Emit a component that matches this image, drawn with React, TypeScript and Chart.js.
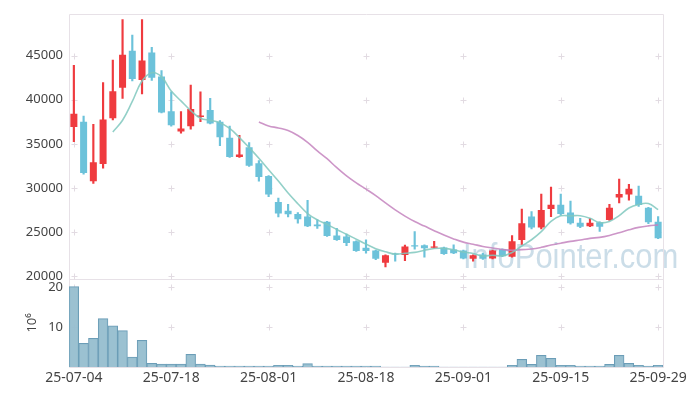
import { useEffect, useRef } from "react";
import { Chart, registerables } from "chart.js";

Chart.register(...registerables);

const dates = [
  "25-07-04", "25-07-07", "25-07-08", "25-07-09", "25-07-10", "25-07-11",
  "25-07-14", "25-07-15", "25-07-16", "25-07-17", "25-07-18",
  "25-07-21", "25-07-22", "25-07-23", "25-07-24", "25-07-25",
  "25-07-28", "25-07-29", "25-07-30", "25-07-31", "25-08-01",
  "25-08-04", "25-08-05", "25-08-06", "25-08-07", "25-08-08",
  "25-08-11", "25-08-12", "25-08-13", "25-08-14", "25-08-18",
  "25-08-19", "25-08-20", "25-08-21", "25-08-22",
  "25-08-25", "25-08-26", "25-08-27", "25-08-28", "25-08-29", "25-09-01",
  "25-09-02", "25-09-03", "25-09-04", "25-09-05",
  "25-09-08", "25-09-09", "25-09-10", "25-09-11", "25-09-12", "25-09-15",
  "25-09-16", "25-09-17", "25-09-18", "25-09-19",
  "25-09-22", "25-09-23", "25-09-24", "25-09-25", "25-09-26", "25-09-29",
];

const opens = [
  36900, 37500, 30750, 32700, 37900, 41350, 45550, 42250, 45350, 42650,
  38700, 36400, 37000, 38050, 38850, 37500, 35700, 33500, 34600, 32800,
  31350, 28400, 27400, 27050, 26750, 25850, 26150, 24600, 24500, 23950,
  23200, 22900, 21500, 22550, 22400, 23500, 23500, 23200, 23250, 23000,
  22900, 21950, 22450, 22000, 23050, 22200, 24100, 26750, 25500, 27600,
  28100, 27200, 26050, 25650, 26100, 26350, 28900, 29250, 29100, 27750,
  26150,
];
const highs = [
  43900, 38150, 37200, 41950, 44500, 49100, 47350, 49100, 45950, 43300,
  40900, 38650, 41650, 40900, 40150, 37650, 37000, 35950, 35150, 33100,
  31400, 28850, 28150, 27200, 28600, 26400, 26200, 25400, 24750, 24000,
  24100, 22950, 22400, 22600, 23500, 25050, 23550, 23950, 23300, 23550,
  22950, 22400, 22600, 22950, 23100, 24600, 27600, 27300, 29300, 30100,
  29300, 28500, 26550, 26550, 26150, 28150, 31000, 30400, 30200, 27800,
  26750,
];
const lows = [
  35250, 31550, 30500, 32250, 37700, 40150, 42150, 40650, 42200, 38500,
  37000, 36200, 36650, 37500, 37250, 34800, 33450, 33450, 32450, 30750,
  29000, 26700, 26700, 26000, 25600, 25400, 24500, 24050, 23450, 22800,
  22600, 21850, 21050, 21700, 21750, 23050, 22150, 23150, 22450, 22550,
  21950, 21700, 21900, 21950, 22200, 22150, 23600, 25350, 25350, 26750,
  26900, 25900, 25500, 25600, 25050, 26300, 28300, 28600, 27900, 25950,
  24250,
];
const closes = [
  38400, 31700, 32900, 37750, 40950, 45100, 42350, 44450, 42500, 38550,
  37100, 36750, 38950, 38200, 37300, 35750, 33500, 33800, 32500, 31250,
  29250, 27100, 27000, 26450, 25650, 25650, 24550, 24100, 23750, 22850,
  22850, 21950, 22350, 22450, 23350, 23350, 23150, 23350, 22500, 22600,
  22000, 22350, 21950, 22900, 22250, 23950, 26000, 25500, 27500, 28100,
  27050, 26000, 25600, 26050, 25600, 27750, 29300, 29900, 28050, 26100,
  24300,
];
// volume in millions of shares
const volumes = [
  20.1, 5.9, 7.2, 12.1, 10.3, 9.1, 2.5, 6.7, 0.9, 0.7,
  0.7, 0.7, 3.15, 0.7, 0.45, 0.25, 0.25, 0.25, 0.25, 0.25,
  0.25, 0.4, 0.4, 0.25, 0.85, 0.25, 0.25, 0.25, 0.25, 0.25,
  0.25, 0.25, 0.01, 0.01, 0.01, 0.4, 0.2, 0.2, 0.01, 0.01,
  0.01, 0.01, 0.01, 0.01, 0.01, 0.4, 1.9, 0.65, 2.9, 2.2,
  0.4, 0.4, 0.25, 0.25, 0.25, 0.65, 2.9, 0.9, 0.4, 0.2,
  0.4,
];

const priceTicks = [20000, 25000, 30000, 35000, 40000, 45000];
const volumeTicks = [10, 20];
const volumeTitle = "10⁶";
const watermark = "InfoPointer.com";

const UP = "#ef3b3f";
const DOWN = "#6cc2da";
const FONT = "'Noto Sans', sans-serif";
const TEXT = "#444444";

function movingAverage(values: number[], n: number): (number | null)[] {
  return values.map((_, i) => {
    if (i < n - 1) return null;
    let s = 0;
    for (let k = i - n + 1; k <= i; k++) s += values[k];
    return s / n;
  });
}

const framePlugin = {
  id: "frame",
  beforeDatasetsDraw(chart: any) {
    const { ctx, chartArea, scales } = chart;
    const x = scales.x;
    const y = scales.y;
    const yv = scales.yv;
    ctx.save();
    // watermark
    ctx.save();
    ctx.font = "31px 'Liberation Sans', sans-serif";
    ctx.fillStyle = "rgba(168,198,216,0.6)";
    ctx.textBaseline = "alphabetic";
    ctx.textAlign = "left";
    ctx.translate(463, 267.5);
    ctx.scale(1, 1.12);
    ctx.fillText(watermark, 0, 0);
    ctx.restore();
    // frame
    ctx.strokeStyle = "#e7e1e7";
    ctx.lineWidth = 1;
    ctx.beginPath();
    const l = Math.round(chartArea.left) + 0.5;
    const r = Math.round(chartArea.right) + 0.5;
    const t = Math.round(chartArea.top) + 0.5;
    const b = Math.round(chartArea.bottom) + 0.5;
    const m = Math.round(y.bottom) + 0.5;
    ctx.moveTo(l, t); ctx.lineTo(l, b);
    ctx.moveTo(r, t); ctx.lineTo(r, b);
    ctx.moveTo(l, t); ctx.lineTo(r, t);
    ctx.moveTo(l, m); ctx.lineTo(r, m);
    ctx.moveTo(l, b); ctx.lineTo(r, b);
    ctx.stroke();
    // crosses at tick intersections
    ctx.strokeStyle = "#e2dbe2";
    ctx.beginPath();
    for (let i = 0; i < dates.length; i += 10) {
      const px = Math.round(x.getPixelForValue(i)) + 0.5;
      const ys = [
        ...priceTicks.map((v) => y.getPixelForValue(v)),
        ...volumeTicks.map((v) => yv.getPixelForValue(v)),
      ];
      for (const py0 of ys) {
        const py = Math.round(py0) + 0.5;
        ctx.moveTo(px - 3, py); ctx.lineTo(px + 3, py);
        ctx.moveTo(px, py - 3); ctx.lineTo(px, py + 3);
      }
    }
    ctx.stroke();
    ctx.restore();
  },
};

export default function App() {
  const ref = useRef<HTMLCanvasElement | null>(null);

  useEffect(() => {
    if (!ref.current) return;
    const candleColors = opens.map((o, i) => (closes[i] >= o ? UP : DOWN));
    const ma5 = movingAverage(closes, 5);
    const ma20 = movingAverage(closes, 20);

    const chart = new Chart(ref.current, {
      type: "bar",
      data: {
        labels: dates,
        datasets: [
          {
            type: "line",
            label: "MA5",
            data: ma5 as any,
            yAxisID: "y",
            borderColor: "rgba(128,200,190,0.85)",
            borderWidth: 1.6,
            pointRadius: 0,
            tension: 0.4,
            order: 0,
          } as any,
          {
            type: "line",
            label: "MA20",
            data: ma20 as any,
            yAxisID: "y",
            borderColor: "rgba(196,132,190,0.85)",
            borderWidth: 1.6,
            pointRadius: 0,
            tension: 0.4,
            order: 0,
          } as any,
          {
            label: "wick",
            data: lows.map((lo, i) => [lo, highs[i]]) as any,
            yAxisID: "y",
            backgroundColor: candleColors,
            barThickness: 1.5,
            grouped: false,
            order: 2,
          } as any,
          {
            label: "body",
            data: opens.map((o, i) => [o, closes[i]]) as any,
            yAxisID: "y",
            backgroundColor: candleColors,
            categoryPercentage: 1,
            barPercentage: 0.72,
            grouped: false,
            order: 1,
          } as any,
          {
            label: "volume",
            data: volumes,
            yAxisID: "yv",
            backgroundColor: "rgba(150,190,207,0.95)",
            borderColor: "#6b9db7",
            borderWidth: 1,
            categoryPercentage: 1,
            barPercentage: 1,
            grouped: false,
            order: 3,
          } as any,
        ],
      },
      options: {
        responsive: false,
        animation: false,
        layout: { padding: { left: 0, right: 36, top: 10, bottom: 0 } },
        plugins: {
          legend: { display: false },
          tooltip: { enabled: false },
        },
        scales: {
          x: {
            type: "category",
            offset: true,
            grid: { display: false, drawTicks: false },
            border: { display: false },
            ticks: {
              autoSkip: false,
              maxRotation: 0,
              padding: 3,
              color: TEXT,
              font: { family: FONT, size: 14 },
              callback: (_v: any, i: number) => (i % 10 === 0 ? dates[i] : null),
            },
            afterFit: (s: any) => {
              s.height = 29;
            },
          },
          yv: {
            type: "linear",
            position: "left",
            stack: "main",
            stackWeight: 1,
            min: 0,
            max: 22.1,
            grid: { display: false, drawTicks: false },
            border: { display: false },
            afterBuildTicks: (s: any) => {
              s.ticks = volumeTicks.map((v) => ({ value: v }));
            },
            ticks: {
              padding: 6,
              color: TEXT,
              font: { family: FONT, size: 13 },
            },
            title: {
              display: true,
              text: volumeTitle,
              color: TEXT,
              font: { family: FONT, size: 13 },
              padding: { top: 24, bottom: 0 },
            },
            afterFit: (s: any) => {
              s.width = 69;
            },
          },
          y: {
            type: "linear",
            position: "left",
            stack: "main",
            stackWeight: 3,
            min: 19700,
            max: 49750,
            grid: { display: false, drawTicks: false },
            border: { display: false },
            afterBuildTicks: (s: any) => {
              s.ticks = priceTicks.map((v) => ({ value: v }));
            },
            ticks: {
              padding: 6,
              color: TEXT,
              font: { family: FONT, size: 13 },
              callback: (v: any) => String(v),
            },
            afterFit: (s: any) => {
              s.width = 69;
            },
          },
        } as any,
      },
      plugins: [framePlugin],
    });
    return () => chart.destroy();
  }, []);

  return (
    <div style={{ position: "absolute", left: 0, top: 0, width: 699, height: 396, background: "#fff" }}>
      <canvas ref={ref} width={699} height={396} />
    </div>
  );
}
